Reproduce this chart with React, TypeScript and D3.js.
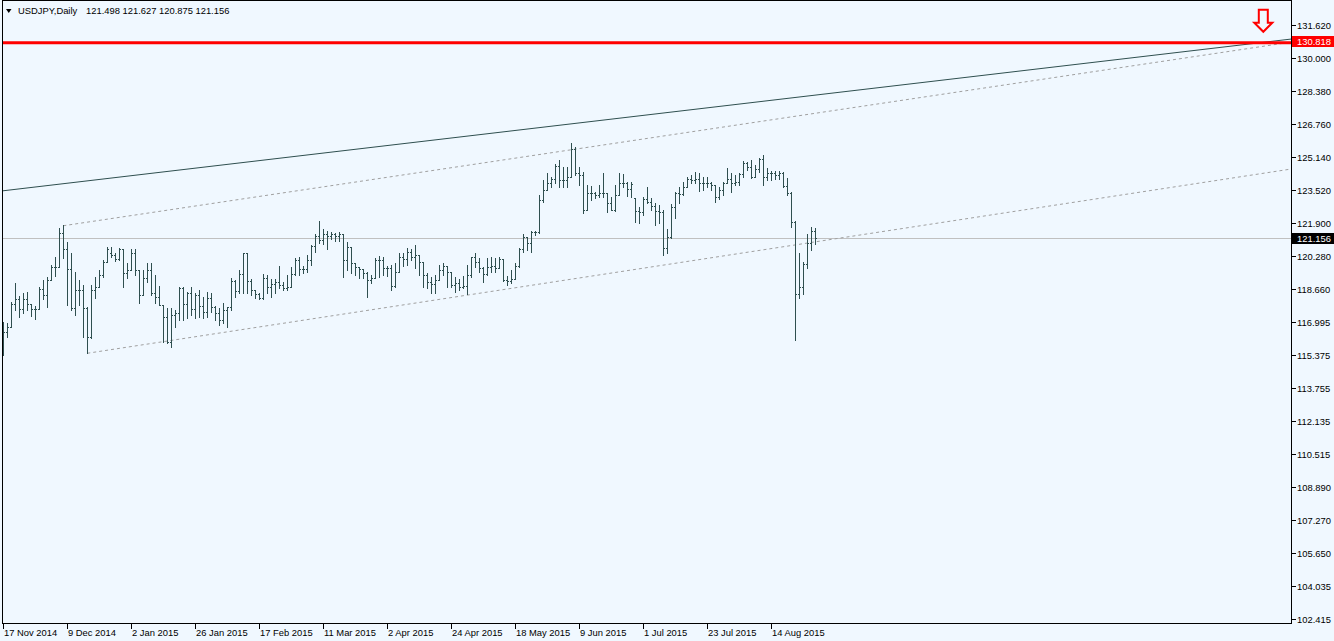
import React from 'react';
import * as d3 from 'd3';

const symbol = 'USDJPY';
const period = 'Daily';

const opens = [
  115.97, 116.54, 116.79, 117.89, 118.13, 117.64, 118.13, 117.89, 117.64, 117.64,
  118.62, 118.35, 119.08, 119.71, 119.71, 121.38, 120.59, 119.61, 117.72, 118.59,
  118.59, 117.72, 116.30, 118.59, 118.76, 119.33, 119.98, 120.39, 120.31, 120.10,
  120.59, 119.44, 119.58, 120.43, 119.58, 118.35, 119.17, 119.58, 118.43, 118.23,
  117.85, 117.25, 116.05, 117.36, 117.44, 118.67, 117.90, 118.46, 117.67, 118.35,
  117.82, 117.53, 118.18, 117.74, 117.44, 117.12, 117.61, 117.77, 119.03, 118.54,
  119.38, 120.39, 119.03, 118.59, 118.38, 118.18, 119.17, 118.72, 118.89, 119.00,
  118.84, 118.67, 118.76, 119.38, 120.07, 119.61, 119.61, 120.07, 120.75, 121.25,
  121.05, 121.34, 121.25, 121.34, 121.25, 121.34, 120.07, 120.69, 119.93, 119.71,
  119.61, 119.44, 119.08, 119.17, 120.07, 120.07, 119.66, 119.66, 118.79, 119.49,
  120.23, 120.10, 120.48, 120.23, 120.31, 119.99, 119.33, 119.00, 118.89, 119.08,
  119.58, 119.77, 119.49, 118.84, 118.95, 118.76, 118.79, 119.33, 120.20, 119.99,
  119.66, 119.38, 119.71, 119.77, 119.66, 120.10, 119.08, 119.05, 119.12, 119.77,
  120.59, 121.21, 120.92, 121.46, 121.46, 123.02, 123.51, 123.87, 124.03, 124.69,
  124.00, 124.00, 124.16, 125.51, 124.33, 124.25, 122.53, 123.35, 123.35, 123.26,
  123.35, 123.35, 122.89, 122.53, 123.26, 123.84, 123.84, 123.54, 123.10, 122.49,
  122.44, 123.05, 122.94, 122.72, 122.49, 122.44, 120.64, 121.21, 122.66, 123.35,
  123.31, 123.67, 124.03, 124.00, 124.03, 123.84, 123.84, 123.84, 123.75, 123.15,
  123.51, 123.87, 124.03, 123.84, 123.92, 124.30, 124.82, 124.66, 124.16, 124.52,
  125.02, 124.13, 124.33, 124.33, 124.25, 124.33, 123.70, 123.38, 121.95, 118.40,
  118.76, 119.87, 120.92, 121.498,
];
const highs = [
  117.03, 116.99, 118.02, 118.92, 118.30, 118.43, 118.51, 117.89, 117.80, 118.76,
  119.08, 119.25, 119.82, 120.23, 121.62, 121.79, 120.97, 120.39, 119.49, 119.08,
  118.84, 117.77, 118.84, 119.25, 119.58, 120.07, 120.72, 120.69, 120.43, 120.64,
  120.59, 119.90, 120.59, 120.59, 119.58, 119.58, 119.90, 119.90, 119.33, 118.79,
  117.85, 117.69, 117.72, 117.61, 118.76, 118.76, 118.51, 118.72, 118.43, 118.59,
  118.23, 118.51, 118.43, 117.80, 117.69, 117.94, 117.77, 119.17, 119.08, 119.58,
  120.39, 120.39, 119.12, 118.59, 118.46, 119.38, 119.33, 119.12, 119.12, 119.77,
  119.00, 119.33, 119.71, 120.15, 120.20, 119.77, 120.31, 120.80, 121.34, 122.00,
  121.57, 121.51, 121.46, 121.41, 121.46, 121.34, 120.97, 120.72, 119.93, 119.74,
  119.61, 119.49, 119.33, 120.15, 120.26, 120.23, 119.77, 119.82, 119.90, 120.43,
  120.39, 120.64, 120.59, 120.80, 120.31, 119.99, 119.44, 119.21, 119.33, 119.82,
  119.94, 119.77, 119.49, 119.25, 119.12, 119.28, 119.82, 120.23, 120.43, 120.15,
  119.74, 120.15, 120.20, 120.15, 120.20, 120.10, 119.28, 119.58, 119.94, 120.64,
  121.34, 121.21, 121.51, 121.51, 123.26, 124.00, 124.36, 124.13, 124.79, 124.98,
  124.66, 124.66, 125.80, 125.64, 124.66, 124.41, 123.75, 123.70, 123.43, 123.75,
  124.33, 123.38, 123.18, 123.75, 124.33, 124.30, 123.92, 123.92, 123.10, 122.69,
  123.15, 123.67, 123.10, 122.85, 122.77, 122.53, 121.57, 122.82, 123.43, 123.67,
  123.92, 124.16, 124.25, 124.41, 124.36, 124.13, 124.13, 123.92, 123.75, 123.67,
  123.92, 124.57, 124.33, 124.25, 124.33, 124.95, 124.90, 124.98, 124.74, 125.07,
  125.23, 124.57, 124.46, 124.46, 124.46, 124.41, 124.08, 123.43, 121.98, 120.39,
  119.99, 121.35, 121.67, 121.627,
];
const lows = [
  115.40, 116.27, 116.79, 117.61, 117.28, 117.44, 117.61, 117.31, 117.15, 117.64,
  118.13, 117.77, 119.08, 119.28, 119.71, 120.15, 117.85, 117.61, 117.36, 117.85,
  116.30, 115.48, 116.22, 118.18, 118.76, 119.25, 119.98, 120.23, 120.03, 120.07,
  118.76, 119.17, 119.55, 119.33, 117.97, 118.35, 119.00, 118.35, 117.97, 117.85,
  116.05, 116.00, 115.77, 116.79, 117.12, 117.12, 117.20, 117.36, 117.20, 117.25,
  117.20, 117.28, 117.53, 117.12, 116.87, 116.95, 116.79, 117.61, 118.26, 118.43,
  118.43, 118.43, 118.35, 118.18, 118.13, 118.13, 118.43, 118.23, 118.43, 118.67,
  118.59, 118.59, 118.72, 119.33, 119.33, 119.41, 119.49, 119.82, 120.48, 120.89,
  120.85, 120.59, 121.08, 121.02, 121.02, 119.25, 119.58, 119.41, 119.33, 119.17,
  119.17, 118.26, 118.92, 119.17, 119.25, 119.33, 119.28, 118.59, 118.76, 119.49,
  119.77, 119.82, 120.07, 119.66, 119.33, 118.76, 118.67, 118.46, 118.46, 119.08,
  119.33, 118.76, 118.76, 118.51, 118.59, 118.67, 118.40, 119.25, 119.74, 119.49,
  119.00, 119.33, 119.49, 119.49, 119.66, 119.05, 118.84, 118.92, 119.12, 119.74,
  120.48, 120.56, 120.48, 121.30, 121.41, 122.94, 123.51, 123.67, 123.84, 123.67,
  123.67, 123.67, 124.16, 124.25, 123.75, 122.36, 122.53, 123.02, 123.10, 123.18,
  123.18, 122.44, 122.53, 122.49, 123.26, 123.67, 123.21, 123.18, 121.95, 121.87,
  122.28, 122.85, 122.53, 121.79, 121.87, 120.31, 120.39, 121.13, 122.12, 122.85,
  123.26, 123.67, 123.84, 123.84, 123.48, 123.51, 123.67, 123.51, 122.94, 123.05,
  123.26, 123.84, 123.43, 123.75, 123.75, 124.16, 124.49, 124.08, 124.16, 124.41,
  123.75, 124.00, 124.00, 124.03, 124.03, 123.67, 123.26, 121.71, 116.13, 118.18,
  118.40, 119.66, 120.56, 120.875,
];
const closes = [
  116.54, 116.79, 117.89, 118.13, 117.64, 118.13, 117.89, 117.64, 117.64, 118.62,
  118.35, 119.08, 119.71, 119.71, 121.38, 120.59, 119.61, 117.72, 118.59, 118.59,
  117.72, 116.30, 118.59, 118.76, 119.33, 119.98, 120.59, 120.31, 120.10, 120.59,
  119.44, 119.58, 120.43, 119.58, 118.35, 119.17, 119.58, 118.43, 118.23, 117.85,
  117.25, 116.05, 117.36, 117.44, 118.67, 117.90, 118.46, 117.67, 118.35, 117.82,
  117.53, 118.18, 117.74, 117.44, 117.12, 117.61, 117.77, 119.03, 118.54, 119.38,
  120.39, 119.03, 118.59, 118.38, 118.18, 119.17, 118.72, 118.89, 119.00, 118.84,
  118.67, 118.76, 119.38, 120.07, 119.61, 119.61, 120.07, 120.75, 121.25, 121.05,
  121.34, 121.25, 121.34, 121.25, 121.34, 120.07, 120.69, 119.93, 119.71, 119.61,
  119.44, 119.08, 119.17, 120.07, 120.07, 119.66, 119.66, 118.79, 119.49, 120.23,
  120.10, 120.48, 120.23, 120.31, 119.99, 119.33, 119.00, 118.89, 119.08, 119.58,
  119.77, 119.49, 118.84, 118.95, 118.76, 118.79, 119.33, 120.20, 119.99, 119.66,
  119.38, 119.71, 119.77, 119.66, 120.10, 119.08, 119.05, 119.12, 119.77, 120.59,
  121.21, 120.92, 121.46, 121.46, 123.02, 123.51, 123.87, 124.03, 124.69, 124.00,
  124.00, 124.16, 125.51, 124.33, 124.25, 122.53, 123.35, 123.35, 123.26, 123.35,
  123.35, 122.89, 122.53, 123.26, 123.84, 123.84, 123.54, 123.80, 122.49, 122.44,
  123.05, 122.94, 122.72, 122.49, 122.44, 120.64, 121.21, 122.66, 123.35, 123.31,
  123.67, 124.03, 124.00, 124.03, 123.84, 123.84, 123.84, 123.75, 123.15, 123.51,
  123.87, 124.03, 123.84, 123.92, 124.30, 124.82, 124.66, 124.16, 124.52, 125.02,
  124.13, 124.33, 124.33, 124.25, 124.33, 123.70, 123.38, 121.95, 118.40, 118.76,
  119.87, 120.92, 121.50, 121.156,
];

const xTickBars = [0, 16, 32, 48, 64, 80, 96, 112, 128, 144, 160, 176, 192];
const xTickLabels = [
  '17 Nov 2014', '9 Dec 2014', '2 Jan 2015', '26 Jan 2015', '17 Feb 2015', '11 Mar 2015',
  '2 Apr 2015', '24 Apr 2015', '18 May 2015', '9 Jun 2015', '1 Jul 2015', '23 Jul 2015', '14 Aug 2015',
];
const yTickValues = [
  131.62, 130.0, 128.38, 126.76, 125.14, 123.52, 121.9, 120.28, 118.66, 116.995,
  115.375, 113.755, 112.135, 110.515, 108.89, 107.27, 105.65, 104.035, 102.415,
];

const levelPrice = 130.818;
const trendSolid = [{ i: 0, p: 123.47 }, { i: 322, p: 130.93 }];
const channelUpper = [{ i: 15, p: 121.75 }, { i: 322, p: 130.78 }];
const channelLower = [{ i: 21, p: 115.48 }, { i: 322, p: 124.54 }];
const arrowMark = { i: 315, p: 131.29 };

const W = 1334;
const H = 641;
const plotL = 2;
const plotR = 1291;
const plotT = 0;
const plotB = 623;
const FONT = '"Liberation Sans", Arial, sans-serif';
const FS = 9.4;
const BAR = '#2F4F4F';

export default function App() {
  const x = d3.scaleLinear().domain([0, 203]).range([3.3, 815.3]);
  const y = d3.scaleLinear().domain([102.415, 131.62]).range([619, 25]);

  const n = closes.length;
  const last = n - 1;
  const line = d3
    .line<{ i: number; p: number }>()
    .x((d) => x(d.i))
    .y((d) => y(d.p));

  const fmt = (v: number) => v.toFixed(3);
  const lastClose = closes[last];

  const slope = (trendSolid[1].p - trendSolid[0].p) / (trendSolid[1].i - trendSolid[0].i);
  const solidExt = [{ i: -2, p: trendSolid[0].p - 2 * slope }, trendSolid[1]];

  const tx = x(arrowMark.i);
  const ty = y(arrowMark.p);
  const arrowPts = [
    [tx - 4.5, ty - 22],
    [tx + 4.5, ty - 22],
    [tx + 4.5, ty - 9],
    [tx + 9, ty - 9],
    [tx, ty],
    [tx - 9, ty - 9],
    [tx - 4.5, ty - 9],
  ]
    .map((p) => p.join(','))
    .join(' ');

  return (
    <svg
      width={W}
      height={H}
      style={{ position: 'absolute', left: 0, top: 0, background: '#F0F8FF' }}
      fontFamily={FONT}
      fontSize={FS}
    >
      <defs>
        <clipPath id="plot">
          <rect x={plotL} y={plotT} width={plotR - plotL} height={plotB - plotT} />
        </clipPath>
      </defs>
      <rect x={0} y={0} width={W} height={H} fill="#F0F8FF" />

      <g clipPath="url(#plot)">
        <line
          x1={plotL}
          x2={plotR}
          y1={Math.round(y(lastClose)) + 0.5}
          y2={Math.round(y(lastClose)) + 0.5}
          stroke="#C0C0C0"
          strokeWidth={1}
        />
        <path d={line(channelUpper) || ''} stroke="#A0A0A0" strokeWidth={1} fill="none" strokeDasharray="3,3" />
        <path d={line(channelLower) || ''} stroke="#A0A0A0" strokeWidth={1} fill="none" strokeDasharray="3,3" />
        <path d={line(solidExt) || ''} stroke={BAR} strokeWidth={1} fill="none" />
        <g fill={BAR} shapeRendering="crispEdges">
          {closes.map((c, i) => {
            const x0 = Math.round(x(i));
            const yh = Math.round(y(highs[i]));
            const yl = Math.round(y(lows[i]));
            const yo = Math.round(y(opens[i]));
            const yc = Math.round(y(c));
            return (
              <g key={i}>
                <rect x={x0} y={yh} width={1} height={yl - yh + 1} />
                <rect x={x0 - 1} y={yo} width={1} height={1} />
                <rect x={x0 + 1} y={yc} width={1} height={1} />
              </g>
            );
          })}
        </g>
        <line
          x1={plotL}
          x2={plotR}
          y1={y(levelPrice) + 1.5}
          y2={y(levelPrice) + 1.5}
          stroke="#FF0000"
          strokeWidth={3}
        />
        <polygon points={arrowPts} fill="none" stroke="#FF0000" strokeWidth={2} strokeLinejoin="miter" />
      </g>

      <g shapeRendering="crispEdges" stroke="#000" fill="none">
        <line x1={plotL + 0.5} x2={plotL + 0.5} y1={plotT} y2={plotB + 0.5} />
        <line x1={plotR + 0.5} x2={plotR + 0.5} y1={plotT} y2={plotB + 0.5} />
        <line x1={plotL} x2={plotR + 1} y1={plotB + 0.5} y2={plotB + 0.5} />
        <line x1={plotL} x2={plotR + 1} y1={plotT + 0.5} y2={plotT + 0.5} />
      </g>

      <g>
        {yTickValues.map((v) => {
          const yy = Math.round(y(v)) + 0.5;
          return (
            <g key={v}>
              <line x1={plotR + 1} x2={plotR + 5} y1={yy} y2={yy} stroke="#000" shapeRendering="crispEdges" />
              <text x={1297} y={yy + 3.5} fill="#000">
                {fmt(v)}
              </text>
            </g>
          );
        })}
      </g>

      <g>
        <rect x={plotR + 1} y={Math.round(y(levelPrice)) - 5} width={W - plotR - 1} height={11} fill="#FF0000" />
        <text x={1297} y={Math.round(y(levelPrice)) + 4} fill="#fff">
          {fmt(levelPrice)}
        </text>
        <rect x={plotR + 1} y={Math.round(y(lastClose)) - 5} width={W - plotR - 1} height={11} fill="#000" />
        <text x={1297} y={Math.round(y(lastClose)) + 4} fill="#fff">
          {fmt(lastClose)}
        </text>
      </g>

      <g>
        {xTickBars.map((b, k) => {
          const xx = Math.round(x(b)) + 0.5;
          return (
            <g key={b}>
              <line x1={xx} x2={xx} y1={plotB + 1} y2={plotB + 6} stroke="#000" shapeRendering="crispEdges" />
              <text x={xx + 0.5} y={636} fill="#000">
                {xTickLabels[k]}
              </text>
            </g>
          );
        })}
      </g>

      <g>
        <path d="M6,9 L11.5,9 L8.75,13 Z" fill="#000" />
        <text x={18} y={14} fill="#000">
          {`${symbol},${period}`}
        </text>
        <text x={86} y={14} fill="#000">
          {`${fmt(opens[last])} ${fmt(highs[last])} ${fmt(lows[last])} ${fmt(lastClose)}`}
        </text>
      </g>
    </svg>
  );
}
